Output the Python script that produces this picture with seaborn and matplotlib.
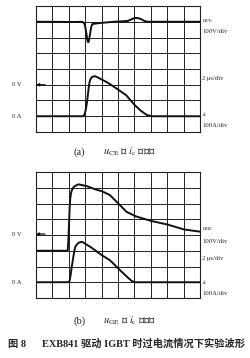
import numpy as np
import pandas as pd
import matplotlib
matplotlib.use("Agg")
import matplotlib.pyplot as plt
import seaborn as sns

sns.set_style("white")
plt.rcParams['font.family'] = ['Liberation Serif', 'Noto Sans CJK SC', 'DejaVu Sans']
plt.rcParams['mathtext.fontset'] = 'stix'

# ---- data (in screen divisions: x 0..10, y 0..8) ----
a_uce_t = [0, 1.0, 2.0, 2.85, 3.0, 3.08, 3.15, 3.22, 3.3, 3.4, 3.7, 4.2, 4.7, 5.2, 5.6, 5.9, 6.1, 6.35, 6.6, 6.8, 8, 10]
a_uce_v = [7.0, 7.0, 6.98, 7.0, 6.8, 6.1, 5.7, 5.65, 6.3, 6.85, 6.9, 6.95, 7.0, 7.02, 7.05, 7.2, 7.25, 7.2, 7.05, 7.0, 7.0, 7.0]
a_ic_t = [0, 2.9, 3.0, 3.13, 3.25, 3.4, 3.6, 4.3, 4.9, 5.5, 5.9, 6.34, 6.75, 7.05, 8, 10]
a_ic_v = [1.0, 1.0, 1.2, 2.0, 3.2, 3.5, 3.55, 3.18, 2.77, 2.34, 1.83, 1.39, 1.08, 1.0, 1.0, 1.0]

b_uge_t = [0, 1.98, 2.0, 2.05, 2.12, 2.28, 2.58, 3.09, 3.6, 4.0, 4.5, 5.02, 5.5, 6.04, 6.95, 7.97, 8.98, 10.0]
b_uge_v = [3.0, 3.0, 4.5, 6.0, 6.67, 7.05, 7.22, 7.11, 6.9, 6.79, 6.54, 6.01, 5.48, 5.2, 4.91, 4.68, 4.36, 4.21]
b_ic_t = [0, 2.05, 2.18, 2.38, 2.58, 2.79, 3.3, 3.9, 4.5, 4.9, 5.43, 5.83, 6.04, 8, 10]
b_ic_v = [1.0, 1.0, 2.0, 3.26, 3.5, 3.58, 3.26, 2.79, 2.41, 1.99, 1.46, 1.08, 1.0, 1.0, 1.0]

zero_v_a, zero_a_a = 3.0, 1.0
zero_v_b, zero_a_b = 4.06, 1.0

fig = plt.figure(figsize=(2.5, 3.58), dpi=100)
W, H = 250, 358

def add_ax(x0, y0, x1, y1):
    return fig.add_axes([x0 / W, 1 - y1 / H, (x1 - x0) / W, (y1 - y0) / H])

def style(ax):
    ax.set_xlim(0, 10)
    ax.set_ylim(0, 8)
    ax.set_xticks(range(11))
    ax.set_yticks(range(9))
    ax.grid(True, color='#222222', linewidth=0.7)
    ax.tick_params(length=0, labelbottom=False, labelleft=False)
    for s in ax.spines.values():
        s.set_color('#222222')
        s.set_linewidth(0.8)
    ax.set_xlabel('')
    ax.set_ylabel('')

def smooth(t, v):
    tt = np.linspace(t[0], t[-1], 600)
    return tt, np.interp(tt, t, v)

def draw(ax, t, v):
    tt, vv = smooth(t, v)
    k = np.ones(7) / 7
    vv = np.convolve(np.pad(vv, 3, mode='edge'), k, mode='valid')
    sns.lineplot(x=tt, y=vv, ax=ax, color='#111111', linewidth=1.4, sort=False)

axa = add_ax(36, 6, 200, 132)
draw(axa, a_uce_t, a_uce_v)
draw(axa, a_ic_t, a_ic_v)
style(axa)

axb = add_ax(36, 172, 200, 298)
draw(axb, b_uge_t, b_uge_v)
draw(axb, b_ic_t, b_ic_v)
style(axb)

fs = 4.8
def rlabels(ax, y_u, name, y_v, y_t, y_i, y_a):
    ax.text(10.15, y_u, name, fontsize=fs, va='center', ha='left', clip_on=False)
    ax.text(10.15, y_v, '100V/div', fontsize=fs, va='center', ha='left', clip_on=False)
    ax.text(10.15, y_t, '2 μs/div', fontsize=fs, va='center', ha='left', clip_on=False)
    ax.text(10.15, y_i, r'$i_{\mathrm{c}}$', fontsize=fs, va='center', ha='left', clip_on=False)
    ax.text(10.15, y_a, '100A/div', fontsize=fs, va='center', ha='left', clip_on=False)

rlabels(axa, 7.1, r'$u_{\mathrm{CE}}$', 6.4, 3.4, 1.1, 0.4)
rlabels(axb, 4.4, r'$u_{\mathrm{GE}}$', 3.6, 2.5, 0.95, 0.3)

for ax, zv, za in [(axa, zero_v_a, zero_a_a), (axb, zero_v_b, zero_a_b)]:
    ax.text(-0.9, zv, '0 V', fontsize=fs, va='center', ha='right', clip_on=False)
    ax.text(-0.9, za, '0 A', fontsize=fs, va='center', ha='right', clip_on=False)
    ax.annotate('', xy=(0.0, zv), xytext=(0.55, zv),
                arrowprops=dict(arrowstyle='-|>', color='#111111', lw=0.9,
                                mutation_scale=4, shrinkA=0, shrinkB=0))

cf = 7.6
fig.text(73 / W, 1 - 152 / H, '(a)', fontsize=cf, va='center', ha='left')
fig.text(103 / W, 1 - 152 / H, r'$u_{\mathrm{CE}}$ 与 $i_{\mathrm{c}}$ 的波形', fontsize=cf, va='center', ha='left')
fig.text(73 / W, 1 - 321 / H, '(b)', fontsize=cf, va='center', ha='left')
fig.text(103 / W, 1 - 321 / H, r'$u_{\mathrm{GE}}$ 与 $i_{\mathrm{c}}$ 的波形', fontsize=cf, va='center', ha='left')
fig.text(8 / W, 1 - 344 / H, '图 8', fontsize=7.4, va='center', ha='left', fontweight='bold')
fig.text(42 / W, 1 - 344 / H, 'EXB841 驱动 IGBT 时过电流情况下实验波形', fontsize=7.4,
         va='center', ha='left', fontweight='bold')

fig.savefig('out.png', dpi=100, facecolor='white')
